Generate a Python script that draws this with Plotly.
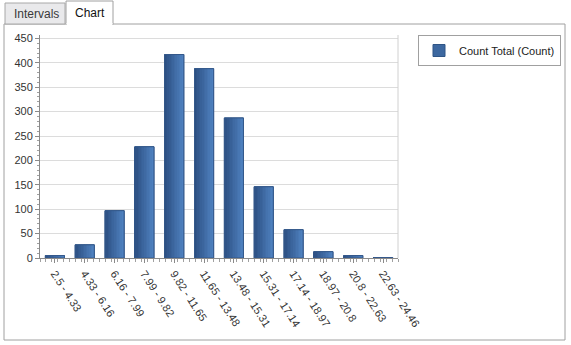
import plotly.graph_objects as go

categories = ["2.5 - 4.33", "4.33 - 6.16", "6.16 - 7.99", "7.99 - 9.82", "9.82 - 11.65",
              "11.65 - 13.48", "13.48 - 15.31", "15.31 - 17.14", "17.14 - 18.97",
              "18.97 - 20.8", "20.8 - 22.63", "22.63 - 24.46"]
counts = [5, 27, 97, 228, 417, 388, 287, 146, 58, 13, 5, 1]
series_name = "Count Total (Count)"
y_ticks = [0, 50, 100, 150, 200, 250, 300, 350, 400, 450]

W, H = 571, 345
ML, MR, MT, MB = 40, 173, 35, 87
PW, PH = W - ML - MR, H - MT - MB

def px(x):
    return (x - ML) / PW

def py(y):
    return (H - MB - y) / PH

xs = list(range(len(categories)))
bar_w = 0.64
N = 12
c0 = (0x2c, 0x4f, 0x82)
c1 = (0x4e, 0x80, 0xbe)

fig = go.Figure()
fig.add_trace(go.Bar(x=xs, y=counts, width=bar_w, name=series_name,
                     marker=dict(color="#3d68a0", line=dict(color="#2f5586", width=1)),
                     showlegend=True))
for i in range(N):
    t = i / (N - 1)
    col = "rgb(%d,%d,%d)" % tuple(round(a + (b - a) * t) for a, b in zip(c0, c1))
    fig.add_trace(go.Bar(x=xs, y=counts, width=bar_w / N + 0.002,
                         offset=-bar_w / 2 + i * bar_w / N,
                         marker=dict(color=col, line=dict(width=0)),
                         showlegend=False, hoverinfo="skip"))
fig.add_trace(go.Bar(x=xs, y=counts, width=bar_w,
                     marker=dict(color="rgba(0,0,0,0)", line=dict(color="#35598b", width=1)),
                     showlegend=False, hoverinfo="skip"))

fig.update_layout(
    width=W, height=H,
    margin=dict(l=ML, r=MR, t=MT, b=MB, autoexpand=False),
    paper_bgcolor="white", plot_bgcolor="white",
    barmode="overlay",
    font=dict(family="Liberation Sans, Arial, sans-serif", size=11, color="#333333"),
    legend=dict(xref="container", yref="container", x=418 / W, y=1 - 35 / H,
                xanchor="left", yanchor="top",
                bordercolor="#a0a0a0", borderwidth=1, bgcolor="white",
                font=dict(size=11, color="#222222"), itemwidth=30,
                tracegroupgap=0),
    xaxis=dict(range=[-0.5, len(categories) - 0.5], tickmode="array", tickvals=xs,
               ticktext=categories, tickangle=57, showgrid=False, zeroline=False,
               showline=True, linecolor="#8a8a8a", linewidth=1, automargin=False,
               ticks="outside", ticklen=4, tickcolor="#8a8a8a",
               tickfont=dict(size=11, color="#333333"),
               minor=dict(tickmode="linear", tick0=-0.5, dtick=0.2, ticks="outside",
                          ticklen=3, tickcolor="#a0a0a0", showgrid=False)),
    yaxis=dict(range=[0, 457], tickmode="array", tickvals=y_ticks, automargin=False,
               showgrid=True, gridcolor="#dcdcdc", gridwidth=1, zeroline=False,
               showline=True, linecolor="#8a8a8a", linewidth=1,
               ticks="outside", ticklen=4, tickcolor="#8a8a8a",
               tickfont=dict(size=11, color="#333333"),
               minor=dict(tickmode="linear", tick0=0, dtick=10, ticks="outside",
                          ticklen=2, tickcolor="#a0a0a0", showgrid=False)),
)

shapes = [
    dict(type="line", xref="paper", yref="paper", x0=1, x1=1, y0=0, y1=1,
         line=dict(color="#d0d0d0", width=1)),
    dict(type="rect", xref="paper", yref="paper", x0=px(4), x1=px(565), y0=py(340), y1=py(24),
         line=dict(color="#a0a0a0", width=1), fillcolor="rgba(0,0,0,0)", layer="below"),
    dict(type="rect", xref="paper", yref="paper", x0=px(5), x1=px(65), y0=py(24), y1=py(3),
         line=dict(color="#a8a8a8", width=1), fillcolor="#e9e9eb", layer="below"),
    dict(type="rect", xref="paper", yref="paper", x0=px(66), x1=px(113), y0=py(24.5), y1=py(1),
         line=dict(color="#a0a0a0", width=1), fillcolor="white", layer="below"),
    dict(type="line", xref="paper", yref="paper", x0=px(66.5), x1=px(112.5), y0=py(24), y1=py(24),
         line=dict(color="white", width=2)),
]
fig.update_layout(shapes=shapes)
fig.add_annotation(x=px(36), y=py(14), xref="paper", yref="paper", text="Intervals",
                   xanchor="center", yanchor="middle",
                   showarrow=False, font=dict(size=12, color="#3a3a3a"))
fig.add_annotation(x=px(89.5), y=py(13), xref="paper", yref="paper", text="Chart",
                   xanchor="center", yanchor="middle",
                   showarrow=False, font=dict(size=12, color="#111111"))

fig.write_html("out.html")
